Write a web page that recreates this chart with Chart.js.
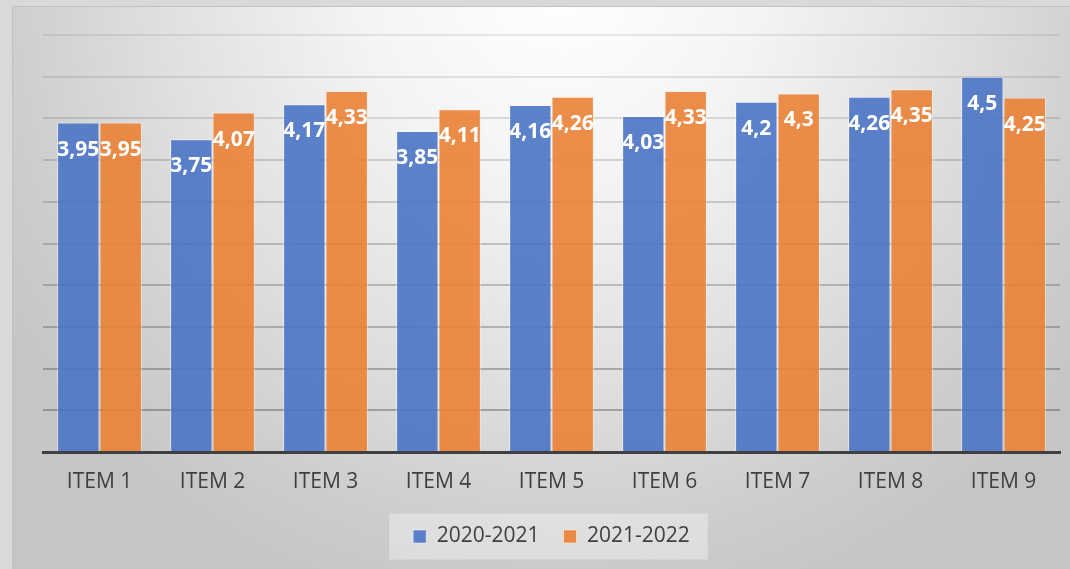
<!DOCTYPE html>
<html>
<head>
<meta charset="utf-8">
<script src="https://cdn.jsdelivr.net/npm/chart.js@4/dist/chart.umd.min.js"></script>
<style>
  html, body { margin: 0; padding: 0; background: #d9d9d9; }
  #wrap { width: 1070px; height: 569px; position: relative; }
</style>
</head>
<body>
<div id="wrap"><canvas id="itemChart"></canvas></div>
<script>
// items and yearly scores
var items = ['ITEM 1', 'ITEM 2', 'ITEM 3', 'ITEM 4', 'ITEM 5', 'ITEM 6', 'ITEM 7', 'ITEM 8', 'ITEM 9'];
var scores2021 = [3.95, 3.75, 4.17, 3.85, 4.16, 4.03, 4.2, 4.26, 4.5];
var scores2022 = [3.95, 4.07, 4.33, 4.11, 4.26, 4.33, 4.3, 4.35, 4.25];
var seriesNames = ['2020-2021', '2021-2022'];

var FONT = '"Open Sans", "DejaVu Sans", sans-serif';

// gray radial backdrop, frame edge and the legend panel
var backdrop = {
    id: 'backdrop',
    beforeDraw: function (chart) {
        var c = chart.ctx;
        var w = chart.width, h = chart.height;
        c.save();
        c.fillStyle = '#d9d9d9';
        c.fillRect(0, 0, w, h);

        var g = c.createRadialGradient(560, -20, 0, 560, -20, 660);
        g.addColorStop(0, '#ffffff');
        g.addColorStop(0.3, '#f4f4f4');
        g.addColorStop(0.6, '#e0e0e0');
        g.addColorStop(0.85, '#cdcdcd');
        g.addColorStop(1, '#c5c5c5');
        c.fillStyle = g;
        c.fillRect(12, 6, w - 12, h - 6);

        c.strokeStyle = '#c2c2c2';
        c.lineWidth = 1;
        c.beginPath();
        c.moveTo(12.5, h);
        c.lineTo(12.5, 6.5);
        c.lineTo(w, 6.5);
        c.stroke();

        var hb = chart.legend.legendHitBoxes;
        if (hb && hb.length) {
            var first = hb[0], last = hb[hb.length - 1];
            var mid = first.top + first.height / 2;
            c.fillStyle = 'rgba(255,255,255,0.35)';
            c.fillRect(first.left - 24, mid - 23, last.left + last.width + 18 - (first.left - 24), 46);
        }
        c.restore();
    }
};

// value labels inside the top of each bar
var barValues = {
    id: 'barValues',
    afterDatasetsDraw: function (chart) {
        var c = chart.ctx;
        c.save();
        c.font = 'bold 21px ' + FONT;
        c.fillStyle = '#ffffff';
        c.textAlign = 'center';
        c.textBaseline = 'middle';
        chart.data.datasets.forEach(function (ds, i) {
            chart.getDatasetMeta(i).data.forEach(function (bar, j) {
                var txt = String(ds.data[j]).replace('.', ',');
                c.fillText(txt, bar.x, bar.y + 27);
            });
        });
        c.restore();
    }
};

var ctx = document.getElementById('itemChart').getContext('2d');
var itemChart = new Chart(ctx, {
    type: 'bar',
    data: {
        labels: items,
        datasets: [
            {
                label: seriesNames[0],
                data: scores2021,
                backgroundColor: 'rgba(75,116,198,0.9)',
                borderColor: 'rgba(255,255,255,0.45)',
                borderWidth: 1
            },
            {
                label: seriesNames[1],
                data: scores2022,
                backgroundColor: 'rgba(234,129,54,0.9)',
                borderColor: 'rgba(255,235,220,0.6)',
                borderWidth: 1
            }
        ]
    },
    plugins: [backdrop, barValues],
    options: {
        responsive: true,
        maintainAspectRatio: false,
        animation: false,
        layout: { padding: { left: 43, right: 10, top: 35, bottom: 12 } },
        datasets: {
            bar: { categoryPercentage: 0.75, barPercentage: 1 }
        },
        plugins: {
            tooltip: { enabled: false },
            legend: {
                position: 'bottom',
                labels: {
                    boxWidth: 13,
                    boxHeight: 13,
                    padding: 24,
                    color: '#404040',
                    font: { family: FONT, size: 21 }
                }
            }
        },
        scales: {
            x: {
                grid: { display: false, drawTicks: false },
                border: { display: true, color: '#404040', width: 3 },
                ticks: {
                    color: '#404040',
                    padding: 17,
                    font: { family: FONT, size: 21 }
                },
                afterFit: function (s) {
                    s.height = s.chart.height - 12 - s.chart.legend.height - 452;
                }
            },
            y: {
                min: 0,
                max: 5,
                ticks: { display: false, stepSize: 0.5 },
                border: { display: false },
                grid: {
                    drawTicks: false,
                    lineWidth: 2,
                    color: function (c) {
                        var v = c.tick ? c.tick.value : 0;
                        var a = 0.1 + (5 - v) * 0.06;
                        return 'rgba(60,60,60,' + a.toFixed(3) + ')';
                    }
                },
                afterFit: function (s) { s.width = 0; }
            }
        }
    }
});
</script>
</body>
</html>
